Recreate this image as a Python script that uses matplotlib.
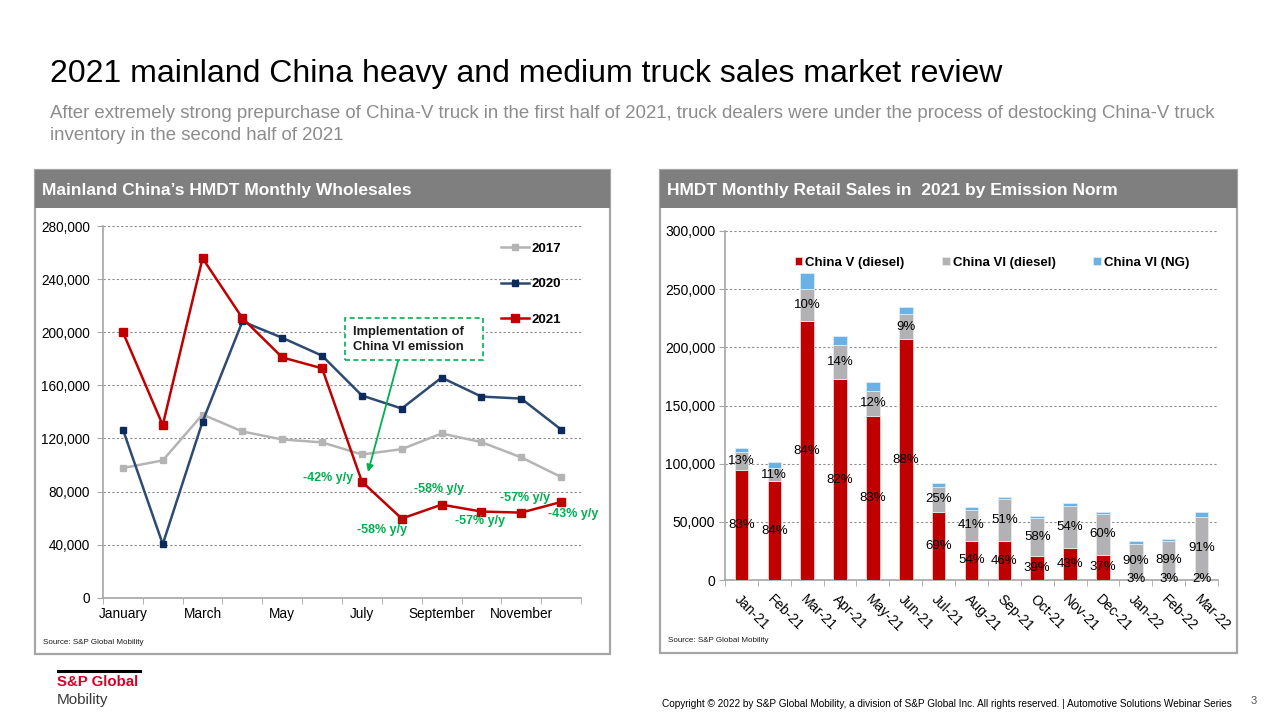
import matplotlib
matplotlib.use('Agg')
import matplotlib.pyplot as plt
from matplotlib.patches import Rectangle
from matplotlib.lines import Line2D
from matplotlib.ticker import FuncFormatter, FixedLocator, MultipleLocator
import numpy as np

plt.rcParams['font.family'] = ['Liberation Sans', 'DejaVu Sans']

# ---------------- data: left chart (monthly wholesales) ----------------
months = ['January', 'February', 'March', 'April', 'May', 'June', 'July',
          'August', 'September', 'October', 'November', 'December']
sales_2017 = [97700, 103400, 138000, 125200, 119200, 117000, 107900,
              111900, 123700, 117200, 105700, 90900]
sales_2020 = [126700, 40300, 132700, 208100, 195800, 182300, 152300,
              142500, 165800, 151500, 150000, 126700]
sales_2021 = [200000, 130000, 255700, 210600, 181000, 172800, 87400,
              59600, 70100, 64900, 64100, 72100]
yoy_labels = ['-42% y/y', '-58% y/y', '-58% y/y', '-57% y/y', '-57% y/y', '-43% y/y']

# ---------------- data: right chart (retail by emission norm) ----------------
retail_months = ['Jan-21', 'Feb-21', 'Mar-21', 'Apr-21', 'May-21', 'Jun-21', 'Jul-21',
                 'Aug-21', 'Sep-21', 'Oct-21', 'Nov-21', 'Dec-21', 'Jan-22', 'Feb-22', 'Mar-22']
china5_diesel = [94600, 84900, 222300, 172700, 141400, 206800, 58200,
                 33800, 33300, 20900, 27800, 21800, 1000, 1000, 1100]
china6_diesel = [15800, 11200, 27500, 28900, 20900, 21500, 22100,
                 26700, 36400, 32200, 36200, 35300, 30300, 32300, 53100]
china6_ng = [3200, 5700, 13800, 8100, 7500, 6000, 3400,
             2000, 2000, 1700, 2000, 1700, 2500, 2300, 4000]
china5_pct = [83, 84, 84, 82, 83, 88, 69, 54, 46, 39, 43, 37, 3, 3, 2]
china6_pct = [13, 11, 10, 14, 12, 9, 25, 41, 51, 58, 54, 60, 90, 89, 91]

W, H = 1280, 720
def fx(x): return x / W
def fy(y): return 1 - y / H

fig = plt.figure(figsize=(12.8, 7.2), dpi=100)
fig.patch.set_facecolor('white')

# ---------------- headline text ----------------
fig.text(fx(50), fy(74), '2021 mainland China heavy and medium truck sales market review',
         fontsize=23, color='black', va='center', ha='left')
fig.text(fx(50), fy(113), 'After extremely strong prepurchase of China-V truck in the first half of 2021, '
         'truck dealers were under the process of destocking China-V truck',
         fontsize=13.4, color='#8c8c8c', va='center', ha='left')
fig.text(fx(50), fy(135), 'inventory in the second half of 2021',
         fontsize=13.4, color='#8c8c8c', va='center', ha='left')

# ---------------- panels ----------------
def panel(x0, y0, x1, y1, title):
    fig.add_artist(Rectangle((fx(x0), fy(y1)), fx(x1) - fx(x0), fy(y0) - fy(y1),
                             transform=fig.transFigure, facecolor='white',
                             edgecolor='#a6a6a6', lw=1.6, zorder=-5))
    fig.add_artist(Rectangle((fx(x0), fy(208)), fx(x1) - fx(x0), fy(y0) - fy(208),
                             transform=fig.transFigure, facecolor='#7f7f7f',
                             edgecolor='none', zorder=-4))
    fig.text(fx(x0 + 7), fy(190), title, fontsize=12.5, fontweight='bold',
             color='white', va='center', ha='left')
    fig.text(fx(x0 + 8), fy(y1 - 12), 'Source: S&P Global Mobility', fontsize=5.8,
             color='#1a1a1a', va='center', ha='left')

panel(35, 170, 610, 654, 'Mainland China\u2019s HMDT Monthly Wholesales')
panel(660, 170, 1237, 653, 'HMDT Monthly Retail Sales in  2021 by Emission Norm')

spine_col = '#a6a6a6'
grid_col = '#8c8c8c'

# ---------------- left chart ----------------
ax1 = fig.add_axes([fx(103), fy(597.7), fx(581) - fx(103), fy(226) - fy(597.7)])
ax1.set_facecolor('none')
x = np.arange(len(months))
ax1.plot(x, sales_2017, color='#b4b4b4', lw=1.8, marker='s', ms=5, label='2017', zorder=3)
ax1.plot(x, sales_2020, color='#2c4a72', lw=1.8, marker='s', ms=5,
         mfc='#0d2a5c', mec='#0d2a5c', label='2020', zorder=4)
ax1.plot(x, sales_2021, color='#c00000', lw=1.8, marker='s', ms=6, label='2021', zorder=5)
ax1.set_xlim(-0.5, len(months) - 0.5)
ax1.set_ylim(0, 280000)
ax1.yaxis.set_major_locator(MultipleLocator(40000))
ax1.yaxis.set_major_formatter(FuncFormatter(lambda v, p: f'{int(v):,}'))
ax1.set_xticks(x[::2])
ax1.set_xticklabels(months[::2])
ax1.xaxis.set_minor_locator(FixedLocator(np.arange(-0.5, len(months), 1.0)))
ax1.tick_params(axis='x', which='major', length=0, pad=7, labelsize=9.8, colors='black')
ax1.tick_params(axis='x', which='minor', length=4, color=spine_col, direction='out')
ax1.tick_params(axis='y', length=4, color=spine_col, pad=5.5, labelsize=9.8, labelcolor='black')
for s in ['top', 'right']:
    ax1.spines[s].set_visible(False)
for s in ['left', 'bottom']:
    ax1.spines[s].set_color(spine_col)
    ax1.spines[s].set_linewidth(1.2)
ax1.yaxis.grid(True, color=grid_col, lw=0.8, ls=(0, (2, 2)))
ax1.set_axisbelow(True)
handles, labels = ax1.get_legend_handles_labels()
leg1 = ax1.legend(handles, labels, loc='upper left', bbox_to_anchor=(fx(489), fy(231)),
                  bbox_transform=fig.transFigure, frameon=False, handlelength=2.1,
                  handletextpad=0.2, labelspacing=1.75, prop={'weight': 'bold', 'size': 9.5})

green = '#00b050'
yoy_pos = [(5.14, 89900), (6.5, 51000), (7.94, 81700), (8.97, 57800), (10.1, 75300), (11.3, 63000)]
for lab, (px_, py_) in zip(yoy_labels, yoy_pos):
    ax1.text(px_, py_, lab, color=green, fontsize=9, fontweight='bold', ha='center', va='center',
             zorder=6)
ax1.add_patch(Rectangle((5.575, 179100), 9.04 - 5.575, 210700 - 179100, facecolor='white',
                        edgecolor=green, lw=1.2, ls=(0, (3, 2)), zorder=2.5))
ax1.text(5.78, 194500, 'Implementation of\nChina VI emission', fontsize=9.3, fontweight='bold',
         color='#1a1a1a', ha='left', va='center', linespacing=1.25, zorder=6)
ax1.annotate('', xy=(6.153, 94700), xytext=(6.907, 178300),
             arrowprops=dict(arrowstyle='-|>', color=green, lw=1.3, mutation_scale=10,
                             shrinkA=0, shrinkB=0), zorder=6)

# ---------------- right chart ----------------
ax2 = fig.add_axes([fx(725), fy(580), fx(1218) - fx(725), fy(231) - fy(580)])
ax2.set_facecolor('none')
xr = np.arange(len(retail_months))
c5 = np.array(china5_diesel)
c6 = np.array(china6_diesel)
ng = np.array(china6_ng)
bw = 0.41
b1 = ax2.bar(xr, c5, width=bw, color='#c00000', edgecolor='#f4d0d0', lw=0.6,
             label='China V (diesel)', zorder=3)
b2 = ax2.bar(xr, c6, bottom=c5, width=bw, color='#b2b2b4', edgecolor='#e8e8e8', lw=0.6,
             label='China VI (diesel)', zorder=3)
b3 = ax2.bar(xr, ng, bottom=c5 + c6, width=bw, color='#6ab2e6', edgecolor='#dcecf8', lw=0.6,
             label='China VI (NG)', zorder=3)
ax2.bar_label(b1, labels=[f'{p}%' for p in china5_pct], label_type='center', fontsize=9.5,
              color='black', zorder=5)
ax2.bar_label(b2, labels=[f'{p}%' for p in china6_pct], label_type='center', fontsize=9.5,
              color='black', zorder=5)
ax2.set_xlim(-0.5, len(retail_months) - 0.5)
ax2.set_ylim(0, 300000)
ax2.yaxis.set_major_locator(MultipleLocator(50000))
ax2.yaxis.set_major_formatter(FuncFormatter(lambda v, p: f'{int(v):,}'))
ax2.set_xticks(xr)
ax2.set_xticklabels(retail_months, rotation=-45, ha='left', va='top', rotation_mode='anchor')
ax2.xaxis.set_minor_locator(FixedLocator(np.arange(-0.5, len(retail_months), 1.0)))
ax2.tick_params(axis='x', which='major', length=0, pad=9, labelsize=10, colors='black')
ax2.tick_params(axis='x', which='minor', length=4, color=spine_col, direction='out')
ax2.tick_params(axis='y', length=4, color=spine_col, pad=3, labelsize=10, labelcolor='black')
for s in ['top', 'right']:
    ax2.spines[s].set_visible(False)
for s in ['left', 'bottom']:
    ax2.spines[s].set_color(spine_col)
    ax2.spines[s].set_linewidth(1.2)
ax2.yaxis.grid(True, color=grid_col, lw=0.8, ls=(0, (2, 2)))
ax2.set_axisbelow(True)
ax2.legend(loc='center left', bbox_to_anchor=(fx(783), fy(263)), bbox_transform=fig.transFigure,
           ncol=3, frameon=False, handlelength=0.55, handleheight=0.55, handletextpad=0.25,
           columnspacing=2.85, prop={'weight': 'bold', 'size': 9.5})

# ---------------- footer ----------------
fig.add_artist(Line2D([fx(58), fx(140)], [fy(671), fy(671)], color='black', lw=2.2,
                      transform=fig.transFigure))
fig.text(fx(57), fy(682), 'S&P Global', fontsize=10.8, fontweight='bold', color='#d6002a',
         va='center', ha='left')
fig.text(fx(57), fy(700), 'Mobility', fontsize=11, color='#3a3a3a', va='center', ha='left')
fig.text(fx(1232), fy(704), 'Copyright \u00a9 2022 by S&P Global Mobility, a division of S&P Global Inc. '
         'All rights reserved. | Automotive Solutions Webinar Series',
         fontsize=7.2, color='black', va='center', ha='right')
fig.text(fx(1254), fy(701), '3', fontsize=8, color='#555555', va='center', ha='center')

fig.savefig('out.png', dpi=100)
